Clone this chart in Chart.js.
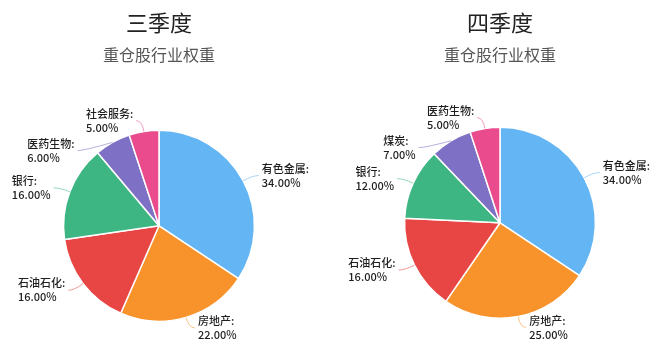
<!DOCTYPE html>
<html>
<head>
<meta charset="utf-8">
<script src="https://cdn.jsdelivr.net/npm/chart.js@4/dist/chart.umd.min.js"></script>
<style>
  html, body { margin: 0; padding: 0; background: #fff; }
  .wrap { position: relative; width: 660px; height: 358px; }
  .box { position: absolute; top: 0; width: 330px; height: 358px; }
</style>
</head>
<body>
<div class="wrap">
  <div class="box" style="left:0"><canvas id="q3"></canvas></div>
  <div class="box" style="left:330px"><canvas id="q4"></canvas></div>
</div>
<script>
// ===== 数据 =====
const subtitle = "重仓股行业权重";

const q3Title = "三季度";
const q3Labels = ["有色金属", "房地产", "石油石化", "银行", "医药生物", "社会服务"];
const q3Values = [34, 22, 16, 16, 6, 5];
const q3Colors = ["#64b5f4", "#f8922a", "#e84545", "#3eb684", "#7e70c4", "#e94b8c"];

const q4Title = "四季度";
const q4Labels = ["有色金属", "房地产", "石油石化", "银行", "煤炭", "医药生物"];
const q4Values = [34, 25, 16, 12, 7, 5];
const q4Colors = ["#64b5f4", "#f8922a", "#e84545", "#3eb684", "#7e70c4", "#e94b8c"];

const FONT = '"Noto Sans CJK SC", "Noto Sans", sans-serif';

// ===== 扇区标签（引导线 + 两行文字） =====
const LEN1 = 11, LEN2 = 6, GAP = 3, LINE_H = 14, BLOCK_H = 30;

const sliceLabels = {
  id: "sliceLabels",
  afterDatasetsDraw(chart) {
    const ctx = chart.ctx;
    const meta = chart.getDatasetMeta(0);
    const ds = chart.data.datasets[0];
    const items = [];

    meta.data.forEach((arc, i) => {
      const p = arc.getProps(["x", "y", "startAngle", "endAngle", "outerRadius"], true);
      const mid = (p.startAngle + p.endAngle) / 2;
      const c = Math.cos(mid), s = Math.sin(mid);
      const R = p.outerRadius + LEN1;
      items.push({
        i, side: c >= 0 ? 1 : -1, cx: p.x, cy: p.y, R,
        sx: p.x + c * p.outerRadius, sy: p.y + s * p.outerRadius,
        ex: p.x + c * R, ey: p.y + s * R
      });
    });

    // 同侧标签防重叠：向下推开，再按外圈重新算 x
    [1, -1].forEach((side) => {
      const list = items.filter((o) => o.side === side).sort((a, b) => a.ey - b.ey);
      for (let k = 1; k < list.length; k++) {
        if (list[k].ey - list[k - 1].ey < BLOCK_H) {
          const o = list[k];
          o.ey = list[k - 1].ey + BLOCK_H;
          const dy = o.ey - o.cy;
          o.ex = Math.abs(dy) < o.R ? o.cx + side * Math.sqrt(o.R * o.R - dy * dy) : o.cx;
        }
      }
    });

    ctx.save();
    ctx.font = "500 11px " + FONT;
    items.forEach((o) => {
      const endX = o.ex + o.side * LEN2;
      // 引导线
      ctx.strokeStyle = ds.backgroundColor[o.i];
      ctx.globalAlpha = 0.55;
      ctx.lineWidth = 1;
      ctx.beginPath();
      ctx.moveTo(o.sx, o.sy);
      ctx.quadraticCurveTo(o.ex, o.ey, endX, o.ey);
      ctx.stroke();
      ctx.globalAlpha = 1;

      // 文字
      const l1 = chart.data.labels[o.i] + ":";
      const l2 = ds.data[o.i].toFixed(2) + "%";
      const w = Math.max(ctx.measureText(l1).width, ctx.measureText(l2).width);
      const x = o.side > 0 ? endX + GAP : endX - GAP - w;
      ctx.fillStyle = "#1e1e1e";
      ctx.textAlign = "left";
      ctx.textBaseline = "middle";
      ctx.fillText(l1, x, o.ey - LINE_H / 2);
      ctx.fillText(l2, x, o.ey + LINE_H / 2);
    });
    ctx.restore();
  }
};

function crearPie(id, title, labels, values, colors, pad, subPad) {
  const ctx = document.getElementById(id).getContext("2d");
  return new Chart(ctx, {
    type: "pie",
    data: {
      labels: labels,
      datasets: [{
        data: values,
        backgroundColor: colors,
        borderColor: "#ffffff",
        borderWidth: 1.5
      }]
    },
    options: {
      responsive: true,
      maintainAspectRatio: false,
      animation: false,
      events: [],
      layout: { padding: pad },
      plugins: {
        legend: { display: false },
        tooltip: { enabled: false },
        title: {
          display: true,
          text: title,
          color: "#222",
          font: { family: FONT, size: 22, weight: "normal" },
          padding: { top: 9, bottom: 10 }
        },
        subtitle: {
          display: true,
          text: subtitle,
          color: "#555",
          font: { family: FONT, size: 16, weight: "normal" },
          padding: { top: 0, bottom: subPad }
        }
      }
    },
    plugins: [sliceLabels]
  });
}

crearPie("q3", q3Title, q3Labels, q3Values, q3Colors, { left: 0, right: 12, top: 0, bottom: 36 }, 65);
crearPie("q4", q4Title, q4Labels, q4Values, q4Colors, { left: 10, right: 0, top: 0, bottom: 39 }, 62);
</script>
</body>
</html>
